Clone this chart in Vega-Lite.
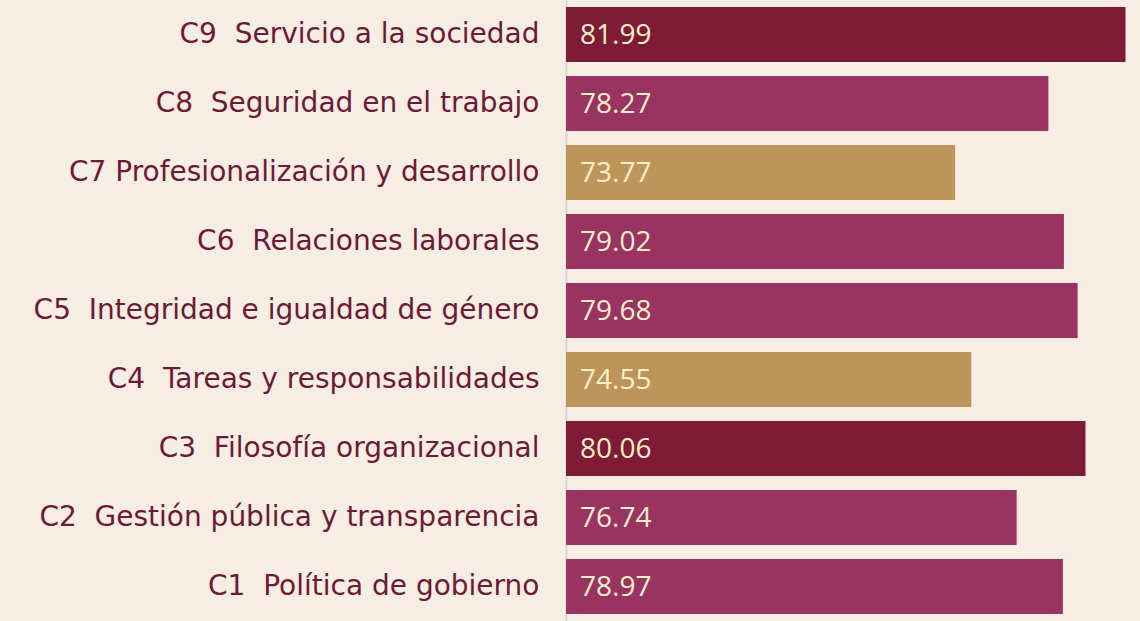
{
  "$schema": "https://vega.github.io/schema/vega-lite/v6.json",
  "width": 574,
  "height": 621,
  "autosize": "none",
  "padding": {"left": 566, "top": 0, "right": 0, "bottom": 0},
  "background": "#f6ede3",
  "config": {"view": {"stroke": null}},
  "data": {"values": [
    {"label": "C9\u00a0 Servicio a la sociedad", "value": 81.99, "group": "dark"},
    {"label": "C8\u00a0 Seguridad en el trabajo", "value": 78.27, "group": "mid"},
    {"label": "C7 Profesionalización y desarrollo", "value": 73.77, "group": "gold"},
    {"label": "C6\u00a0 Relaciones laborales", "value": 79.02, "group": "mid"},
    {"label": "C5\u00a0 Integridad e igualdad de género", "value": 79.68, "group": "mid"},
    {"label": "C4\u00a0 Tareas y responsabilidades", "value": 74.55, "group": "gold"},
    {"label": "C3\u00a0 Filosofía organizacional", "value": 80.06, "group": "dark"},
    {"label": "C2\u00a0 Gestión pública y transparencia", "value": 76.74, "group": "mid"},
    {"label": "C1\u00a0 Política de gobierno", "value": 78.97, "group": "mid"}
  ]},
  "encoding": {
    "y": {
      "field": "label", "type": "nominal", "sort": null,
      "scale": {"paddingInner": 0.2, "paddingOuter": 0.1},
      "axis": {
        "title": null, "ticks": false, "labelPadding": 27,
        "labelFont": "DejaVu Sans", "labelFontSize": 28, "labelColor": "#6e1a36",
        "labelLimit": 600, "domainColor": "#d9d7d5", "domainWidth": 2
      }
    }
  },
  "layer": [
    {
      "mark": {"type": "bar", "clip": true},
      "encoding": {
        "x": {"field": "value", "type": "quantitative", "scale": {"domain": [55, 82.69], "zero": false, "nice": false}, "axis": null},
        "color": {"field": "group", "type": "nominal", "legend": null,
          "scale": {"domain": ["dark", "mid", "gold"], "range": ["#7e1c37", "#993362", "#bd955a"]}}
      }
    },
    {
      "mark": {"type": "text", "align": "left", "baseline": "middle", "dx": 14, "dy": 1, "font": "Open Sans", "fontSize": 28, "color": "#fdf0c6"},
      "encoding": {
        "x": {"datum": 55, "type": "quantitative"},
        "text": {"field": "value", "type": "quantitative", "format": ".2f"}
      }
    }
  ]
}
